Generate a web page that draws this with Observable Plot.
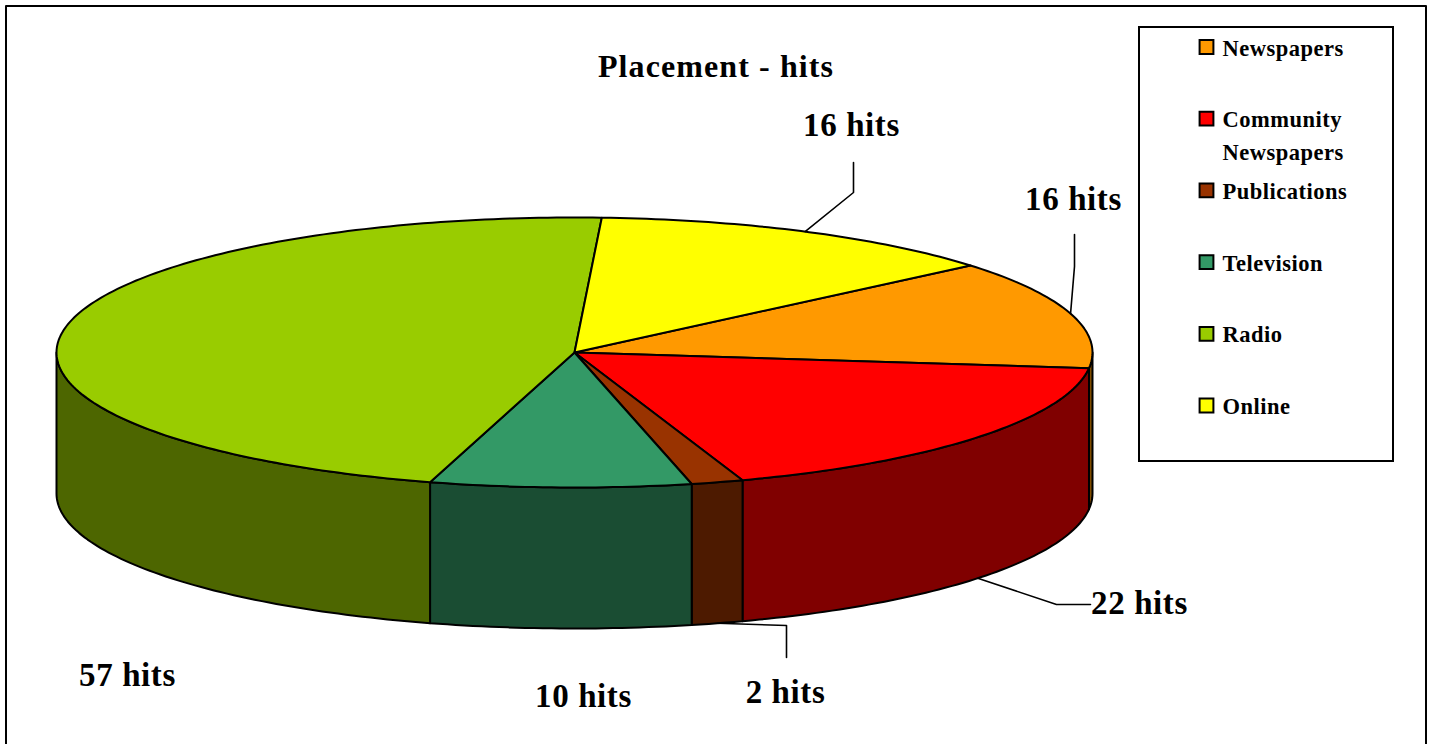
<!DOCTYPE html>
<html>
<head>
<meta charset="utf-8">
<script src="https://cdn.jsdelivr.net/npm/d3@7"></script>
<script src="https://cdn.jsdelivr.net/npm/@observablehq/plot@0.6"></script>
<style>
html,body{margin:0;padding:0;background:#fff}
svg{display:block}
.t-title{letter-spacing:1.1px}
.t-hits{letter-spacing:.6px}
.t-legend{letter-spacing:.5px}
</style>
</head>
<body>
<div id="chart"></div>
<script>
const chartTitle = "Placement - hits";
const categories = ["Newspapers", "Community Newspapers", "Publications", "Television", "Radio", "Online"];
const legendLabels = ["Newspapers", "Community\nNewspapers", "Publications", "Television", "Radio", "Online"];
const hits = [16, 22, 2, 10, 57, 16];
const topColors = ["#FF9900", "#FF0000", "#993300", "#339966", "#99CC00", "#FFFF00"];
const sideColors = ["#804D00", "#800000", "#4D1A00", "#1A4D33", "#4D6600", "#808000"];

// Layout of the tilted pie
const cx = 574, cy = 352, rx = 518, ry = 135, depth = 141;
const startAngle = 49.85 * Math.PI / 180;
const fontFamily = "'Liberation Serif', serif";
const STEP = Math.PI / 180;

const arcs = d3.pie().sort(null).startAngle(startAngle).endAngle(startAngle + 2 * Math.PI)(hits);
const pt = (a, dy = 0) => ({x: cx + rx * Math.sin(a), y: cy - ry * Math.cos(a) + dy});
const sweep = (a0, a1, dy = 0) => {
  const n = Math.max(1, Math.ceil((a1 - a0) / STEP));
  return d3.range(n + 1).map(i => pt(a0 + (a1 - a0) * i / n, dy));
};

// Top faces
const topFaces = arcs.map(d => {
  const c = {x: cx, y: cy};
  return [c, ...sweep(d.startAngle, d.endAngle), c];
});

// Visible walls: the part of each slice on the near half of the ellipse
const wallLo = Math.PI / 2, wallHi = 3 * Math.PI / 2;
const walls = arcs.map((d, i) => {
  const a0 = Math.max(d.startAngle, wallLo), a1 = Math.min(d.endAngle, wallHi);
  if (a1 <= a0) return null;
  const top = sweep(a0, a1), bottom = sweep(a0, a1, depth).reverse();
  return {i, points: [...top, ...bottom, top[0]]};
}).filter(Boolean);

// Leader lines start on the rim at each slice's middle angle
const mid = d => (d.startAngle + d.endAngle) / 2;
const leaders = [
  {i: 5, dy: 0, via: [{x: 853, y: 192}, {x: 853, y: 162}]},
  {i: 0, dy: 0, via: [{x: 1074, y: 266}, {x: 1074, y: 234}]},
  {i: 1, dy: depth, via: [{x: 1056, y: 604}, {x: 1090, y: 604}]},
  {i: 2, dy: depth, via: [{x: 786, y: 625}, {x: 786, y: 657}]}
].map(l => [pt(mid(arcs[l.i]), l.dy), ...l.via]);

const labelX = [1073, 1139, 785, 583, 127, 851];
const labelY = [199, 603, 692, 696, 675, 125];
const hitLabels = hits.map((h, i) => ({text: `${h} hits`, x: labelX[i], y: labelY[i]}));

const legendX = 1206, legendTextX = 1222, legendY0 = 46.5, legendStep = 71.7;
const legend = legendLabels.map((text, i) => ({text, color: topColors[i], x: legendX, y: legendY0 + i * legendStep}));

const frame = [{x: 5.5, y: 750}, {x: 5.5, y: 5.5}, {x: 1425.5, y: 5.5}, {x: 1425.5, y: 750}];

const chart = Plot.plot({
  width: 1437,
  height: 744,
  margin: 0,
  x: {domain: [0, 1437], range: [0, 1437], axis: null},
  y: {domain: [0, 744], range: [0, 744], axis: null},
  style: {background: "#fff", fontFamily},
  marks: [
    Plot.line(frame, {x: "x", y: "y", stroke: "#000", strokeWidth: 2, clip: false}),
    ...walls.map(w => Plot.line(w.points, {x: "x", y: "y", fill: sideColors[w.i], stroke: "#000", strokeWidth: 2, strokeLinejoin: "round"})),
    ...topFaces.map((f, i) => Plot.line(f, {x: "x", y: "y", fill: topColors[i], stroke: "#000", strokeWidth: 2, strokeLinejoin: "round"})),
    ...leaders.map(l => Plot.line(l, {x: "x", y: "y", stroke: "#000", strokeWidth: 1.6})),
    Plot.text([chartTitle], {x: 715.5, y: 66.5, text: d => d, fontSize: 32, fontWeight: "bold", fill: "#000", className: "t-title"}),
    Plot.text(hitLabels, {x: "x", y: "y", text: "text", fontSize: 33, fontWeight: "bold", fill: "#000", className: "t-hits"}),
    Plot.rect([0], {x1: 1139, x2: 1393, y1: 27, y2: 461, fill: "#fff", stroke: "#000", strokeWidth: 2}),
    Plot.dot(legend, {x: "x", y: "y", symbol: "square", r: 7.8, fill: "color", stroke: "#000", strokeWidth: 2}),
    Plot.text(legend, {x: legendTextX, y: "y", text: "text", textAnchor: "start", lineAnchor: "top", dy: -14.5, lineHeight: 1.45, fontSize: 22.5, fontWeight: "bold", fill: "#000", className: "t-legend"})
  ]
});
document.getElementById("chart").append(chart);
</script>
</body>
</html>
